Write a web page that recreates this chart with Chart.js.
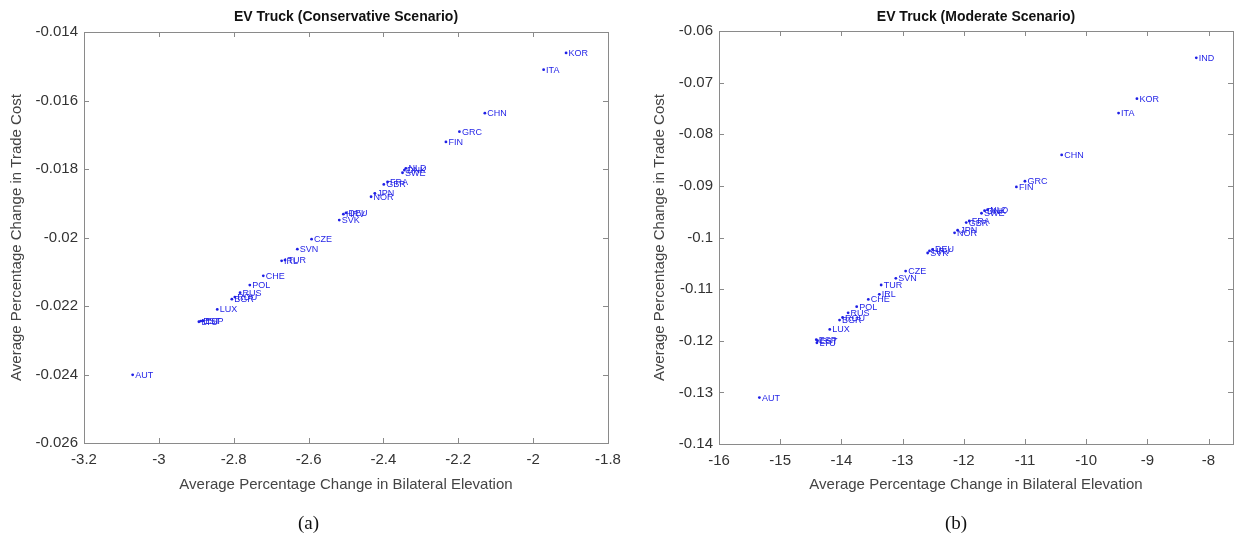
<!DOCTYPE html>
<html lang="en">
<head>
<meta charset="utf-8">
<title>EV Truck scenarios</title>
<script src="https://cdn.jsdelivr.net/npm/chart.js"></script>
<style>
  body { margin: 0; background: #fff; width: 1238px; height: 550px; position: relative; overflow: hidden; }
  .box { position: absolute; top: 0; height: 550px; }
  .cap { position: absolute; top: 512px; font-family: 'Liberation Serif', serif; font-size: 19px; color: #111; }
</style>
</head>
<body>
<div class="box" style="left:0;width:640px"><canvas id="chartA" width="640" height="550"></canvas></div>
<div class="box" style="left:619px;width:619px"><canvas id="chartB" width="619" height="550"></canvas></div>
<div class="cap" style="left:298px">(a)</div>
<div class="cap" style="left:945px">(b)</div>
<script>
// conservative scenario
const consCountries = ['KOR','ITA','CHN','GRC','FIN','NLD','DNK','SWE','FRA','GBR','JPN','NOR','DEU','HRV','SVK','CZE','SVN','TUR','IRL','CHE','POL','RUS','ROU','BGR','LUX','ESP','EST','LTU','AUT'];
const consX = [-1.912,-1.972,-2.129,-2.197,-2.233,-2.340,-2.344,-2.349,-2.389,-2.399,-2.423,-2.433,-2.500,-2.507,-2.518,-2.592,-2.630,-2.663,-2.672,-2.721,-2.757,-2.783,-2.797,-2.805,-2.844,-2.882,-2.888,-2.893,-3.070];
const consY = [-0.01461,-0.0151,-0.01637,-0.01691,-0.01721,-0.01798,-0.01803,-0.01811,-0.01838,-0.01845,-0.01871,-0.01881,-0.01928,-0.01932,-0.01949,-0.02005,-0.02034,-0.02066,-0.02068,-0.02112,-0.02139,-0.02161,-0.02174,-0.0218,-0.0221,-0.02243,-0.02244,-0.02246,-0.02401];
const consXTicks = [-3.2,-3,-2.8,-2.6,-2.4,-2.2,-2,-1.8];
const consXLabels = ['-3.2','-3','-2.8','-2.6','-2.4','-2.2','-2','-1.8'];
const consYTicks = [-0.026,-0.024,-0.022,-0.02,-0.018,-0.016,-0.014];
const consYLabels = ['-0.026','-0.024','-0.022','-0.02','-0.018','-0.016','-0.014'];

// moderate scenario
const modCountries = ['IND','KOR','ITA','CHN','GRC','FIN','NLD','DNK','SWE','FRA','GBR','JPN','NOR','DEU','HRV','SVK','CZE','SVN','TUR','IRL','CHE','POL','RUS','ROU','BGR','LUX','ESP','EST','LTU','AUT'];
const modX = [-8.20,-9.17,-9.47,-10.40,-11.00,-11.14,-11.61,-11.66,-11.71,-11.91,-11.96,-12.10,-12.15,-12.51,-12.56,-12.59,-12.95,-13.11,-13.35,-13.38,-13.56,-13.75,-13.89,-13.98,-14.03,-14.19,-14.41,-14.39,-14.40,-15.34];
const modY = [-0.0652,-0.0731,-0.0759,-0.0840,-0.0891,-0.0902,-0.0946,-0.0948,-0.0953,-0.0968,-0.0971,-0.0986,-0.0991,-0.1023,-0.1026,-0.1030,-0.1065,-0.1079,-0.1092,-0.1110,-0.1120,-0.1134,-0.1146,-0.1155,-0.1160,-0.1178,-0.1198,-0.1200,-0.1204,-0.1310];
const modXTicks = [-16,-15,-14,-13,-12,-11,-10,-9,-8];
const modXLabels = ['-16','-15','-14','-13','-12','-11','-10','-9','-8'];
const modYTicks = [-0.14,-0.13,-0.12,-0.11,-0.1,-0.09,-0.08,-0.07,-0.06];
const modYLabels = ['-0.14','-0.13','-0.12','-0.11','-0.1','-0.09','-0.08','-0.07','-0.06'];

const xTitle = 'Average Percentage Change in Bilateral Elevation';
const yTitle = 'Average Percentage Change in Trade Cost';

const FONT = "'Liberation Sans', Arial, sans-serif";
const BLUE = '#1f1fe6';

// box, inward ticks, point labels and titles
const decor = {
  id: 'decor',
  afterDatasetsDraw(chart, args, opts) {
    const ctx = chart.ctx;
    const a = chart.chartArea;
    const sx = chart.scales.x, sy = chart.scales.y;
    ctx.save();
    // country labels next to each point
    ctx.fillStyle = BLUE;
    ctx.font = '9px ' + FONT;
    ctx.textBaseline = 'middle';
    const meta = chart.getDatasetMeta(0);
    meta.data.forEach((pt, i) => {
      ctx.fillText(opts.names[i], pt.x + 2.5, pt.y + 0.5);
    });
    // axes box
    ctx.strokeStyle = '#8a8a8a';
    ctx.lineWidth = 1;
    ctx.strokeRect(Math.round(a.left) + 0.5, Math.round(a.top) + 0.5, Math.round(a.right - a.left), Math.round(a.bottom - a.top));
    ctx.beginPath();
    sx.ticks.forEach(t => {
      const x = Math.round(sx.getPixelForValue(t.value)) + 0.5;
      ctx.moveTo(x, a.bottom); ctx.lineTo(x, a.bottom - 5);
      ctx.moveTo(x, a.top); ctx.lineTo(x, a.top + 5);
    });
    sy.ticks.forEach(t => {
      const y = Math.round(sy.getPixelForValue(t.value)) + 0.5;
      ctx.moveTo(a.left, y); ctx.lineTo(a.left + 5, y);
      ctx.moveTo(a.right, y); ctx.lineTo(a.right - 5, y);
    });
    ctx.stroke();
    // title and axis titles
    const cx = (a.left + a.right) / 2;
    ctx.textAlign = 'center';
    ctx.fillStyle = '#111';
    ctx.font = 'bold 14px ' + FONT;
    ctx.fillText(opts.title, cx, 17);
    ctx.fillStyle = '#444';
    ctx.font = '15px ' + FONT;
    ctx.fillText(xTitle, cx, 485);
    ctx.translate(opts.yTitleX, (a.top + a.bottom) / 2);
    ctx.rotate(-Math.PI / 2);
    ctx.fillText(yTitle, 0, 0);
    ctx.restore();
  }
};

// keep the plot box where the layout padding puts it
function noOverhang(s) {
  s.paddingLeft = 0; s.paddingRight = 0;
  s.paddingTop = 0; s.paddingBottom = 0;
}

function makeChart(id, names, xs, ys, xTicks, xLabels, yTicks, yLabels, xMin, xMax, yMin, yMax, title, pad, yWidth, yTitleX) {
  const pts = xs.map((x, i) => ({ x: x, y: ys[i] }));
  return new Chart(document.getElementById(id), {
    type: 'scatter',
    data: {
      datasets: [{
        data: pts,
        backgroundColor: BLUE,
        borderColor: BLUE,
        pointRadius: 1.4,
        pointBorderWidth: 0
      }]
    },
    options: {
      responsive: false,
      animation: false,
      devicePixelRatio: 1,
      layout: { padding: pad },
      plugins: {
        legend: { display: false },
        tooltip: { enabled: false },
        decor: { names: names, title: title, yTitleX: yTitleX }
      },
      scales: {
        x: {
          type: 'linear', min: xMin, max: xMax,
          grid: { display: false, drawTicks: false },
          border: { display: false },
          afterBuildTicks: s => { s.ticks = xTicks.map(v => ({ value: v })); },
          afterFit: s => { s.height = 60; noOverhang(s); },
          ticks: {
            autoSkip: false, maxRotation: 0, padding: 8,
            color: '#333', font: { family: FONT, size: 15 },
            callback: (v, i) => xLabels[i]
          }
        },
        y: {
          type: 'linear', min: yMin, max: yMax,
          grid: { display: false, drawTicks: false },
          border: { display: false },
          afterBuildTicks: s => { s.ticks = yTicks.map(v => ({ value: v })); },
          afterFit: s => { s.width = yWidth; noOverhang(s); },
          ticks: {
            autoSkip: false, padding: 6,
            color: '#333', font: { family: FONT, size: 15 },
            callback: (v, i) => yLabels[i]
          }
        }
      }
    },
    plugins: [decor]
  });
}

makeChart('chartA', consCountries, consX, consY, consXTicks, consXLabels, consYTicks, consYLabels,
  -3.2, -1.8, -0.026, -0.014, 'EV Truck (Conservative Scenario)',
  { top: 32, right: 32, bottom: 47, left: 0 }, 84, 17);

makeChart('chartB', modCountries, modX, modY, modXTicks, modXLabels, modYTicks, modYLabels,
  -16, -7.6, -0.14, -0.06, 'EV Truck (Moderate Scenario)',
  { top: 31, right: 5, bottom: 46, left: 0 }, 100, 41);
</script>
</body>
</html>
